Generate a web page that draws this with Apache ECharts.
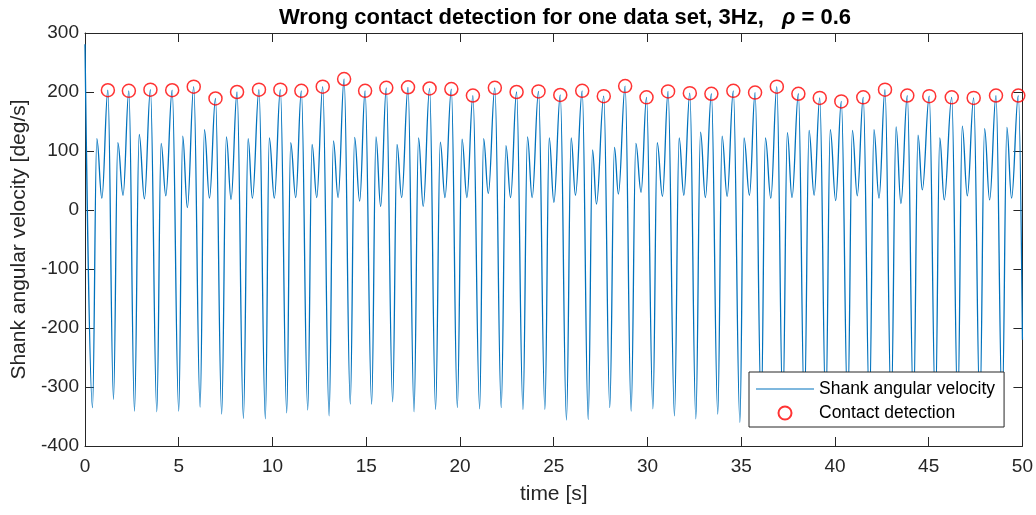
<!DOCTYPE html>
<html>
<head>
<meta charset="utf-8">
<script src="https://cdn.jsdelivr.net/npm/echarts@6/dist/echarts.min.js"></script>
<style>
html,body{margin:0;padding:0;background:#fff;}
#chart{width:1036px;height:515px;}
</style>
</head>
<body>
<div id="chart"></div>
<script>
// ---- data (key points of the signal: peaks, minima, secondary peaks, dips) ----
const timeS = [
  0, 0.40, 0.63, 0.90,
  1.22, 1.52, 1.75, 2.03,
  2.34, 2.64, 2.89, 3.17,
  3.49, 3.83, 4.06, 4.31,
  4.65, 5.00, 5.21, 5.46,
  5.80, 6.14, 6.37, 6.64,
  6.96, 7.29, 7.54, 7.79,
  8.11, 8.45, 8.70, 8.93,
  9.28, 9.62, 9.83, 10.10,
  10.42, 10.76, 10.97, 11.24,
  11.54, 11.88, 12.11, 12.36,
  12.68, 13.02, 13.25, 13.50,
  13.82, 14.15, 14.38, 14.65,
  14.94, 15.29, 15.52, 15.77,
  16.07, 16.41, 16.64, 16.89,
  17.23, 17.55, 17.79, 18.04,
  18.38, 18.70, 18.95, 19.20,
  19.54, 19.86, 20.11, 20.37,
  20.69, 21.05, 21.26, 21.51,
  21.86, 22.20, 22.45, 22.70,
  23.02, 23.36, 23.60, 23.85,
  24.19, 24.53, 24.76, 25.01,
  25.35, 25.68, 25.93, 26.16,
  26.52, 26.84, 27.07, 27.28,
  27.67, 27.99, 28.24, 28.45,
  28.81, 29.13, 29.38, 29.66,
  29.95, 30.29, 30.52, 30.80,
  31.10, 31.44, 31.69, 31.94,
  32.26, 32.58, 32.83, 33.09,
  33.41, 33.75, 33.98, 34.25,
  34.58, 34.93, 35.15, 35.44,
  35.74, 36.07, 36.29, 36.58,
  36.90, 37.22, 37.46, 37.71,
  38.05, 38.37, 38.62, 38.89,
  39.19, 39.51, 39.75, 40.04,
  40.34, 40.68, 40.93, 41.19,
  41.51, 41.84, 42.08, 42.35,
  42.67, 43.00, 43.26, 43.52,
  43.86, 44.19, 44.43, 44.66,
  45.03, 45.36, 45.59, 45.83,
  46.23, 46.55, 46.79, 47.06,
  47.40, 47.73, 47.98, 48.25,
  48.59, 48.92, 49.17, 49.42,
  49.78, 50.00
];
const velocity = [
  281, -335, 121, 20,
  203, -321, 114, 25,
  202, -341, 128, 19,
  204, -342, 113, 24,
  203, -341, 125, 4,
  209, -334, 136, 20,
  189, -346, 124, 18,
  200, -353, 121, 20,
  204, -354, 122, 20,
  204, -344, 114, 21,
  202, -339, 111, 21,
  209, -349, 117, 21,
  222, -329, 123, 15,
  202, -329, 124, 6,
  207, -325, 111, 21,
  208, -342, 122, 6,
  206, -338, 115, 21,
  205, -335, 120, 21,
  194, -337, 121, 28,
  207, -335, 109, 21,
  200, -338, 124, 21,
  201, -338, 122, 13,
  195, -356, 122, 25,
  202, -355, 102, 10,
  193, -335, 106, 27,
  210, -341, 113, 30,
  191, -337, 114, 23,
  201, -349, 122, 25,
  198, -354, 132, 21,
  197, -346, 125, 23,
  202, -360, 122, 25,
  199, -340, 122, 20,
  209, -340, 131, 21,
  197, -340, 135, 25,
  190, -340, 136, 16,
  184, -340, 135, 24,
  191, -340, 136, 20,
  204, -340, 141, 11,
  194, -340, 127, 34,
  193, -340, 122, 17,
  191, -340, 142, 24,
  190, -340, 138, 17,
  194, -340, 140, 20,
  194, -220
];
const contactTime = [
  1.22, 2.34, 3.49, 4.65, 5.80, 6.96, 8.11, 9.28, 10.42, 11.54,
  12.68, 13.82, 14.94, 16.07, 17.23, 18.38, 19.54, 20.69, 21.86, 23.02,
  24.19, 25.35, 26.52, 27.67, 28.81, 29.95, 31.10, 32.26, 33.41, 34.58,
  35.74, 36.90, 38.05, 39.19, 40.34, 41.51, 42.67, 43.86, 45.03, 46.23,
  47.40, 48.59, 49.78
];
const contactVelocity = [
  203, 202, 204, 203, 209, 189, 200, 204, 204, 202,
  209, 222, 202, 207, 208, 206, 205, 194, 207, 200,
  201, 195, 202, 193, 210, 191, 201, 198, 197, 202,
  199, 209, 197, 190, 184, 191, 204, 194, 193, 191,
  190, 194, 194
];
const xTickValues = [0, 5, 10, 15, 20, 25, 30, 35, 40, 45, 50];
const yTickValues = [-400, -300, -200, -100, 0, 100, 200, 300];
const seriesNames = ['Shank angular velocity', 'Contact detection'];
const titleText = 'Wrong contact detection for one data set, 3Hz,   {rho|ρ} = 0.6';
const xLabel = 'time [s]';
const yLabel = 'Shank angular velocity [deg/s]';

// ---- chart ----
const FONT = '"Liberation Sans", Arial, Helvetica, sans-serif';
const AX = '#262626';
const lineData = timeS.map((t, i) => [t, velocity[i]]);
const contactData = contactTime.map((t, i) => [t, contactVelocity[i]]);

const xRange = {
  min: xTickValues[0], max: xTickValues[xTickValues.length - 1],
  interval: xTickValues[1] - xTickValues[0]
};
const yRange = {
  min: yTickValues[0], max: yTickValues[yTickValues.length - 1],
  interval: yTickValues[1] - yTickValues[0]
};

const chart = echarts.init(document.getElementById('chart'), null, { renderer: 'canvas' });
chart.setOption({
  animation: false,
  backgroundColor: '#fff',
  textStyle: { fontFamily: FONT },
  title: {
    text: titleText,
    left: 560,
    textAlign: 'center',
    top: 2,
    textStyle: {
      fontFamily: FONT, fontSize: 22, fontWeight: 'bold', color: '#000',
      rich: {
        rho: { fontFamily: FONT, fontSize: 22, fontWeight: 'bold', fontStyle: 'italic', color: '#000' }
      }
    }
  },
  grid: { left: 85, right: 13, top: 33, bottom: 69, containLabel: false },
  xAxis: [
    {
      type: 'value', position: 'bottom', ...xRange,
      name: xLabel, nameLocation: 'middle', nameGap: 38,
      nameTextStyle: { fontFamily: FONT, fontSize: 21, color: AX },
      axisLine: { show: true, onZero: false, lineStyle: { color: AX, width: 1 } },
      axisTick: { show: true, inside: true, length: 9, lineStyle: { color: AX } },
      axisLabel: { fontFamily: FONT, fontSize: 19, color: AX, margin: 11 },
      splitLine: { show: false }
    },
    {
      type: 'value', position: 'top', ...xRange,
      axisLine: { show: true, onZero: false, lineStyle: { color: AX, width: 1 } },
      axisTick: { show: true, inside: true, length: 9, lineStyle: { color: AX } },
      axisLabel: { show: false },
      splitLine: { show: false }
    }
  ],
  yAxis: [
    {
      type: 'value', position: 'left', ...yRange,
      name: yLabel, nameLocation: 'middle', nameGap: 55,
      nameTextStyle: { fontFamily: FONT, fontSize: 21, color: AX },
      axisLine: { show: true, onZero: false, lineStyle: { color: AX, width: 1 } },
      axisTick: { show: true, inside: true, length: 9, lineStyle: { color: AX } },
      axisLabel: { fontFamily: FONT, fontSize: 19, color: AX, margin: 6 },
      splitLine: { show: false }
    },
    {
      type: 'value', position: 'right', ...yRange,
      axisLine: { show: true, onZero: false, lineStyle: { color: AX, width: 1 } },
      axisTick: { show: true, inside: true, length: 9, lineStyle: { color: AX } },
      axisLabel: { show: false },
      splitLine: { show: false }
    }
  ],
  legend: {
    orient: 'vertical',
    left: 749, top: 372,
    padding: [7, 9, 4, 7],
    itemGap: 4,
    itemWidth: 58, itemHeight: 13,
    selectedMode: false,
    backgroundColor: '#fff',
    borderColor: AX, borderWidth: 1, borderRadius: 0,
    textStyle: { fontFamily: FONT, fontSize: 17.5, color: '#000', lineHeight: 20 },
    data: [
      { name: seriesNames[0], icon: 'path://M0,0H100V2H0Z', itemStyle: { color: '#0072BD', borderWidth: 0 } },
      { name: seriesNames[1] }
    ]
  },
  series: [
    {
      name: seriesNames[0],
      type: 'line',
      xAxisIndex: 0, yAxisIndex: 0,
      data: lineData,
      showSymbol: false, symbol: 'none',
      smooth: 0.4, smoothMonotone: 'x',
      itemStyle: { color: '#0072BD' },
      lineStyle: { color: '#0072BD', width: 1.3 },
      z: 2
    },
    {
      name: seriesNames[1],
      type: 'scatter',
      xAxisIndex: 0, yAxisIndex: 0,
      data: contactData,
      symbol: 'circle', symbolSize: 13,
      itemStyle: { color: 'rgba(255,255,255,0)', borderColor: '#FF0000', borderWidth: 1.5 },
      z: 3
    }
  ]
});
</script>
</body>
</html>
